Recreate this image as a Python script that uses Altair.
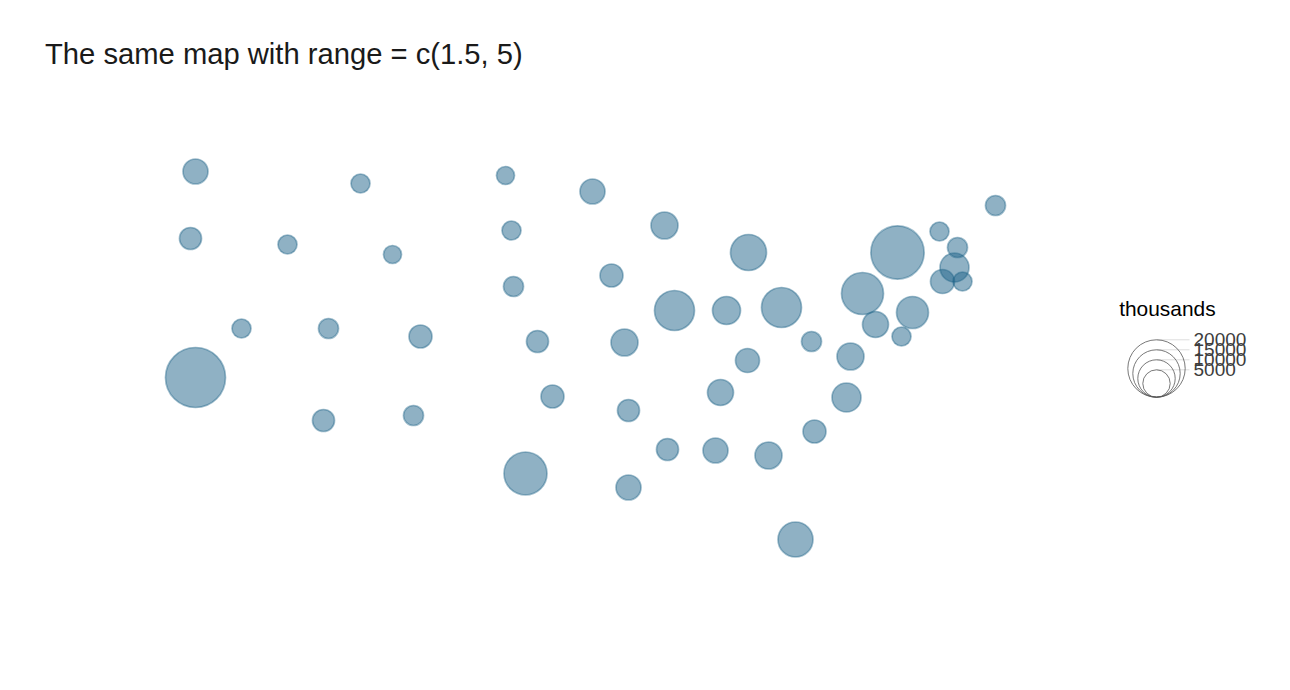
import altair as alt
import pandas as pd

states = ["WA","OR","ID","MT","WY","ND","SD","NE","MN","IA","WI","MI","IL","IN","OH","KY","WV","PA","VA","MD","NJ","DE","NY","CT","MA","RI","NH","VT","ME","NC","SC","GA","AL","MS","FL","TN","AR","LA","TX","OK","KS","MO","NV","UT","CO","AZ","NM","CA"]
map_x = [195,190,287,360,392,505,511,513,592,611,664,748,674,726,781,747,811,862,850,875,912,901,897,942,954,962,957,939,995,846,814,768,715,667,795,720,628,628,525,552,537,624,241,328,420,323,413,195]
map_y = [171,238,244,183,254,175,230,286,191,275,225,252,310,310,307,360,341,293,356,324,312,336,252,281,267,281,247,231,205,397,431,455,450,449,539,392,410,487,473,396,341,342,328,328,336,420,415,377]
thousands = [2700,1590,770,770,560,560,770,1010,2700,1920,3600,9260,12630,4100,12630,2300,1010,14500,3600,3130,6400,770,27500,2300,4630,770,1010,770,1010,4630,1920,3600,2700,1590,8500,3130,1590,2700,15500,1920,1590,3600,770,1010,1920,1590,1010,37250]

legend_values = [20000,15000,10000,5000]
title_text = "The same map with range = c(1.5, 5)"
legend_title = "thousands"

df = pd.DataFrame({"state":states,"x":map_x,"y":map_y,"thousands":thousands})
leg = pd.DataFrame({"value":legend_values,"label":[str(v) for v in legend_values]})

X = alt.Scale(domain=[7.5,1281.5], range=[0,1274])
Y = alt.Scale(domain=[7.5,677.5], range=[0,670])
ax = None

points = alt.Chart(df).transform_calculate(
    r="9 + 21*(sqrt(datum.thousands)-23.7)/169.3"
).transform_calculate(
    area="pow(2*datum.r,2)"
).mark_point(shape="circle", filled=True, fill="#1F6389", stroke="#1F6389",
             fillOpacity=0.5, strokeOpacity=0.42, strokeWidth=1.7).encode(
    x=alt.X("x:Q", scale=X, axis=ax),
    y=alt.Y("y:Q", scale=Y, axis=ax),
    size=alt.Size("area:Q", scale=None),
    tooltip=["state","thousands"],
)

leg_base = alt.Chart(leg).transform_calculate(
    r="8.7 + 0.001*datum.value"
).transform_calculate(
    yc="396.7 - datum.r", ytop="396.7 - 2*datum.r", area="pow(2*datum.r,2)"
)

ticks = leg_base.mark_rule(color="#dddddd", strokeWidth=1).encode(
    x=alt.X(datum=1156, scale=X, axis=ax),
    x2=alt.X2(datum=1189),
    y=alt.Y("ytop:Q", scale=Y, axis=ax),
)
rings = leg_base.mark_point(shape="circle", filled=False, stroke="#555555", strokeWidth=0.8, opacity=1).encode(
    x=alt.X(datum=1156, scale=X, axis=ax),
    y=alt.Y("yc:Q", scale=Y, axis=ax),
    size=alt.Size("area:Q", scale=None),
)
labels = leg_base.mark_text(align="left", baseline="middle", font="Liberation Sans", fontSize=19, color="#3d3d3d").encode(
    x=alt.X(datum=1193, scale=X, axis=ax),
    y=alt.Y("ytop:Q", scale=Y, axis=ax),
    text="label:N",
)
leg_head = alt.Chart(pd.DataFrame({"t":[legend_title]})).mark_text(
    align="left", baseline="middle", font="Liberation Sans", fontSize=20.9, color="#000000"
).encode(
    x=alt.X(datum=1118.7, scale=X, axis=ax),
    y=alt.Y(datum=309, scale=Y, axis=ax),
    text="t:N",
)

chart = alt.layer(points, ticks, rings, labels, leg_head).properties(
    width=1274, height=670, padding=0,
    autosize=alt.AutoSizeParams(type="none"),
    title=alt.TitleParams(title_text, anchor="start", frame="group", dx=37, dy=62, offset=0,
                          font="Liberation Sans", fontSize=29.2, fontWeight="normal", color="#1a1a1a"),
).configure_view(stroke=None)

chart.save("out.html", embed_options={"renderer": "svg", "actions": False})
